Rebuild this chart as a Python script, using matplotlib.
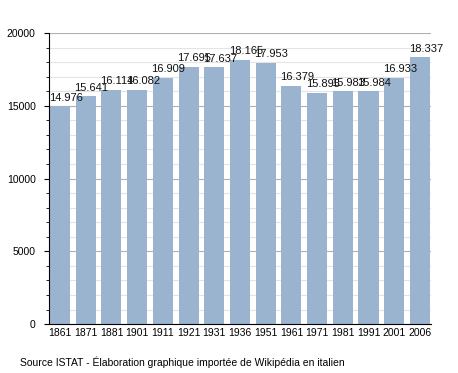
import matplotlib

matplotlib.use("Agg")
import matplotlib.pyplot as plt  # noqa: E402
from matplotlib.ticker import MultipleLocator  # noqa: E402

plt.rcParams["font.family"] = ["Liberation Sans", "DejaVu Sans"]

YEARS = ["1861", "1871", "1881", "1901", "1911", "1921", "1931", "1936",
         "1951", "1961", "1971", "1981", "1991", "2001", "2006"]
POPULATION = [14976, 15641, 16114, 16082, 16909, 17695, 17637, 18165,
              17953, 16379, 15895, 15983, 15984, 16933, 18337]
LABELS = ["14.976", "15.641", "16.114", "16.082", "16.909", "17.695", "17.637",
          "18.165", "17.953", "16.379", "15.895", "15.983", "15.984", "16.933",
          "18.337"]

fig = plt.figure(figsize=(4.58, 3.73), dpi=100)
ax = fig.add_axes([0.107, 0.131, 0.834, 0.7805])

x = range(len(YEARS))
bars = ax.bar(x, POPULATION, width=0.78, color="#9ab3cf", zorder=2)
for bar, label in zip(bars, LABELS):
    ax.text(bar.get_x() - 0.05, bar.get_height() + 250, label,
            ha="left", va="bottom", fontsize=8, color="#111111", zorder=3)

ax.set_xlim(-0.43, len(YEARS) - 0.57)
ax.set_ylim(0, 20000)
ax.set_xticks(list(x))
ax.set_xticklabels(YEARS, fontsize=7.5)
ax.tick_params(axis="x", length=0, pad=3)
ax.yaxis.set_major_locator(MultipleLocator(5000))
ax.yaxis.set_minor_locator(MultipleLocator(1000))
ax.tick_params(axis="y", which="major", length=3.6, labelsize=7.5, pad=6)
ax.tick_params(axis="y", which="minor", length=2)
ax.grid(axis="y", which="major", color="#b0b0b0", linewidth=0.8, zorder=0)
ax.grid(axis="y", which="minor", color="#e4e4e4", linewidth=0.8, zorder=0)
ax.set_axisbelow(True)
for side in ("top", "right"):
    ax.spines[side].set_visible(False)

fig.text(0.044, 0.03, "Source ISTAT - Élaboration graphique importée de Wikipédia en italien",
         fontsize=7.5, ha="left", va="center")

fig.savefig("out.png", dpi=100)
